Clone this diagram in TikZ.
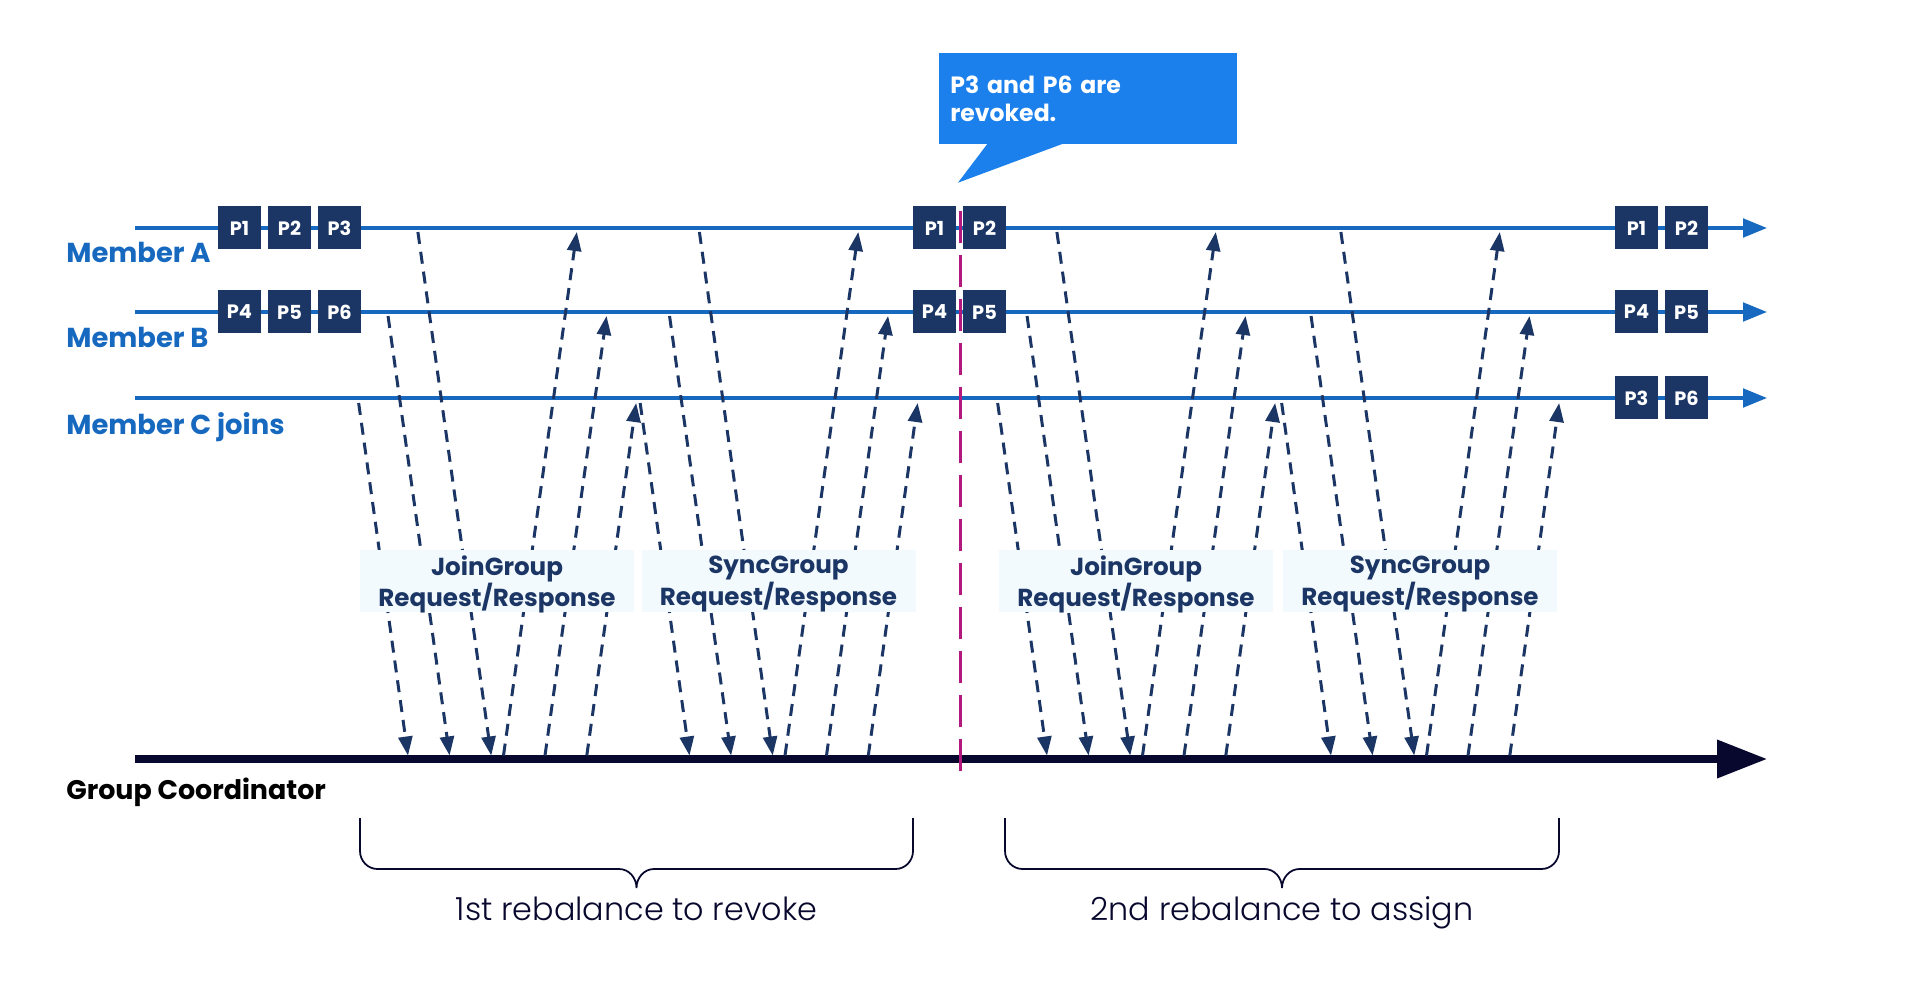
\documentclass[tikz,border=0pt]{standalone}
\usepackage{fontspec}
\setmainfont{Poppins}
\newfontfamily\lightfont{Poppins Light}
\usetikzlibrary{arrows.meta,calc}

\definecolor{laneblue}{RGB}{23,105,191}
\definecolor{partnavy}{RGB}{27,53,100}
\definecolor{coordnavy}{RGB}{8,8,46}
\definecolor{calloutblue}{RGB}{27,128,236}
\definecolor{cutmagenta}{RGB}{179,24,127}
\definecolor{labelfill}{RGB}{242,250,254}

\begin{document}
\begin{tikzpicture}[
    lane/.style={laneblue, line width=2pt, -{Triangle[length=0.48cm, width=0.37cm]}},
    lanelabel/.style={laneblue, anchor=base west, inner sep=0pt,
                      font=\fontsize{15.6}{18}\selectfont\bfseries},
    part/.style={fill=partnavy, text=white, minimum size=0.86cm, inner sep=0pt,
                 font=\fontsize{11}{12}\selectfont\bfseries},
    msg/.style={partnavy, line width=1.7pt, dash pattern=on 0.24cm off 0.16cm,
                -{Triangle[length=0.38cm, width=0.28cm]}},
    msgbox/.style={fill=labelfill, text=partnavy, align=center, inner sep=0pt,
                   minimum width=5.48cm, minimum height=1.24cm, text depth=0pt,
                   font=\fontsize{14}{16}\selectfont\bfseries},
    brace/.style={coordnavy, line width=1pt}
  ]
  \useasboundingbox (0,0) rectangle (38.4,19.62);

  % member timelines
  \draw[lane] (2.7,15.06) -- (35.34,15.06);
  \draw[lane] (2.7,13.38) -- (35.34,13.38);
  \draw[lane] (2.7,11.66) -- (35.34,11.66);
  \node[lanelabel] (memA) at (1.32,14.36) {Member A};
  \node[lanelabel] (memB) at (1.32,12.66) {Member B};
  \node[lanelabel] (memC) at (1.32,10.92) {Member C joins};

  % group coordinator timeline
  \draw[coordnavy, line width=4pt, -{Triangle[length=1cm, width=0.74cm]}] (2.7,4.44) -- (35.34,4.44);
  \node[anchor=west, inner sep=0pt, font=\fontsize{15.3}{18}\selectfont\bfseries] (coord) at (1.32,3.78) {Group Coordinator};

  % requests and responses of the four rounds
  \foreach \e/\kind [count=\r] in {8.16/JoinGroup, 13.79/SyncGroup, 20.94/JoinGroup, 26.62/SyncGroup}{
    \foreach \m/\y/\dx/\o in {C/11.56/0.987/0, B/13.30/1.231/0.832, A/14.98/1.466/1.664}{
      \coordinate (rq\r\m) at (\e+\o-\dx,\y);
      \coordinate (rg\r\m) at (\e+\o,4.51);
      \draw[msg] (rq\r\m) -- (rg\r\m);
    }
    \foreach \m/\y/\dx/\o in {A/14.98/1.466/1.91, B/13.30/1.231/2.74, C/11.56/0.987/3.576}{
      \coordinate (sg\r\m) at (\e+\o,4.51);
      \coordinate (sm\r\m) at (\e+\o+\dx,\y);
      \draw[msg] (sg\r\m) -- (sm\r\m);
    }
    \node[msgbox] (round\r) at (\e+1.78,8.0) {\kind\\Request/Response};
  }

  % partitions before, during and after
  \node[part] (a1) at (4.79,15.06) {P1};
  \node[part] (a2) at (5.79,15.06) {P2};
  \node[part] (a3) at (6.79,15.06) {P3};
  \node[part] (b4) at (4.79,13.38) {P4};
  \node[part] (b5) at (5.79,13.38) {P5};
  \node[part] (b6) at (6.79,13.38) {P6};
  \node[part] (ma1) at (18.69,15.06) {P1};
  \node[part] (ma2) at (19.69,15.06) {P2};
  \node[part] (mb4) at (18.69,13.38) {P4};
  \node[part] (mb5) at (19.69,13.38) {P5};
  \node[part] (ea1) at (32.73,15.06) {P1};
  \node[part] (ea2) at (33.73,15.06) {P2};
  \node[part] (eb4) at (32.73,13.38) {P4};
  \node[part] (eb5) at (33.73,13.38) {P5};
  \node[part] (ec3) at (32.73,11.66) {P3};
  \node[part] (ec6) at (33.73,11.66) {P6};

  % revocation point
  \draw[cutmagenta, line width=1.7pt, dash pattern=on 0.64cm off 0.24cm] (19.2,15.4) -- (19.2,4.2);
  \node[fill=calloutblue, text=white, anchor=north west, minimum width=5.96cm, minimum height=1.82cm,
        text width=5.52cm, align=left, inner xsep=0.22cm,
        font=\fontsize{13.4}{16}\selectfont\bfseries] (revoked) at (18.78,18.56) {P3 and P6 are\\revoked.};
  \fill[calloutblue] ($(revoked.south west)+(0.97,0.02)$) -- ($(revoked.south west)+(0.38,-0.76)$)
    -- ($(revoked.south west)+(2.48,0.02)$) -- cycle;

  % braces
  \foreach \xa/\xb/\txt in {7.2/18.26/1st rebalance to revoke, 20.1/31.18/2nd rebalance to assign}{
    \pgfmathsetmacro\xm{(\xa+\xb)/2}
    \draw[brace] (\xa,3.26) -- (\xa,2.6) to[out=-90,in=180] (\xa+0.35,2.24) -- (\xm-0.35,2.24)
      to[out=0,in=90] (\xm,1.86) to[out=90,in=180] (\xm+0.35,2.24) -- (\xb-0.35,2.24)
      to[out=0,in=-90] (\xb,2.6) -- (\xb,3.26);
    \node[coordnavy, anchor=base, font=\lightfont\fontsize{18.1}{21}\selectfont] at (\xm,1.22) {\txt};
  }
\end{tikzpicture}
\end{document}
